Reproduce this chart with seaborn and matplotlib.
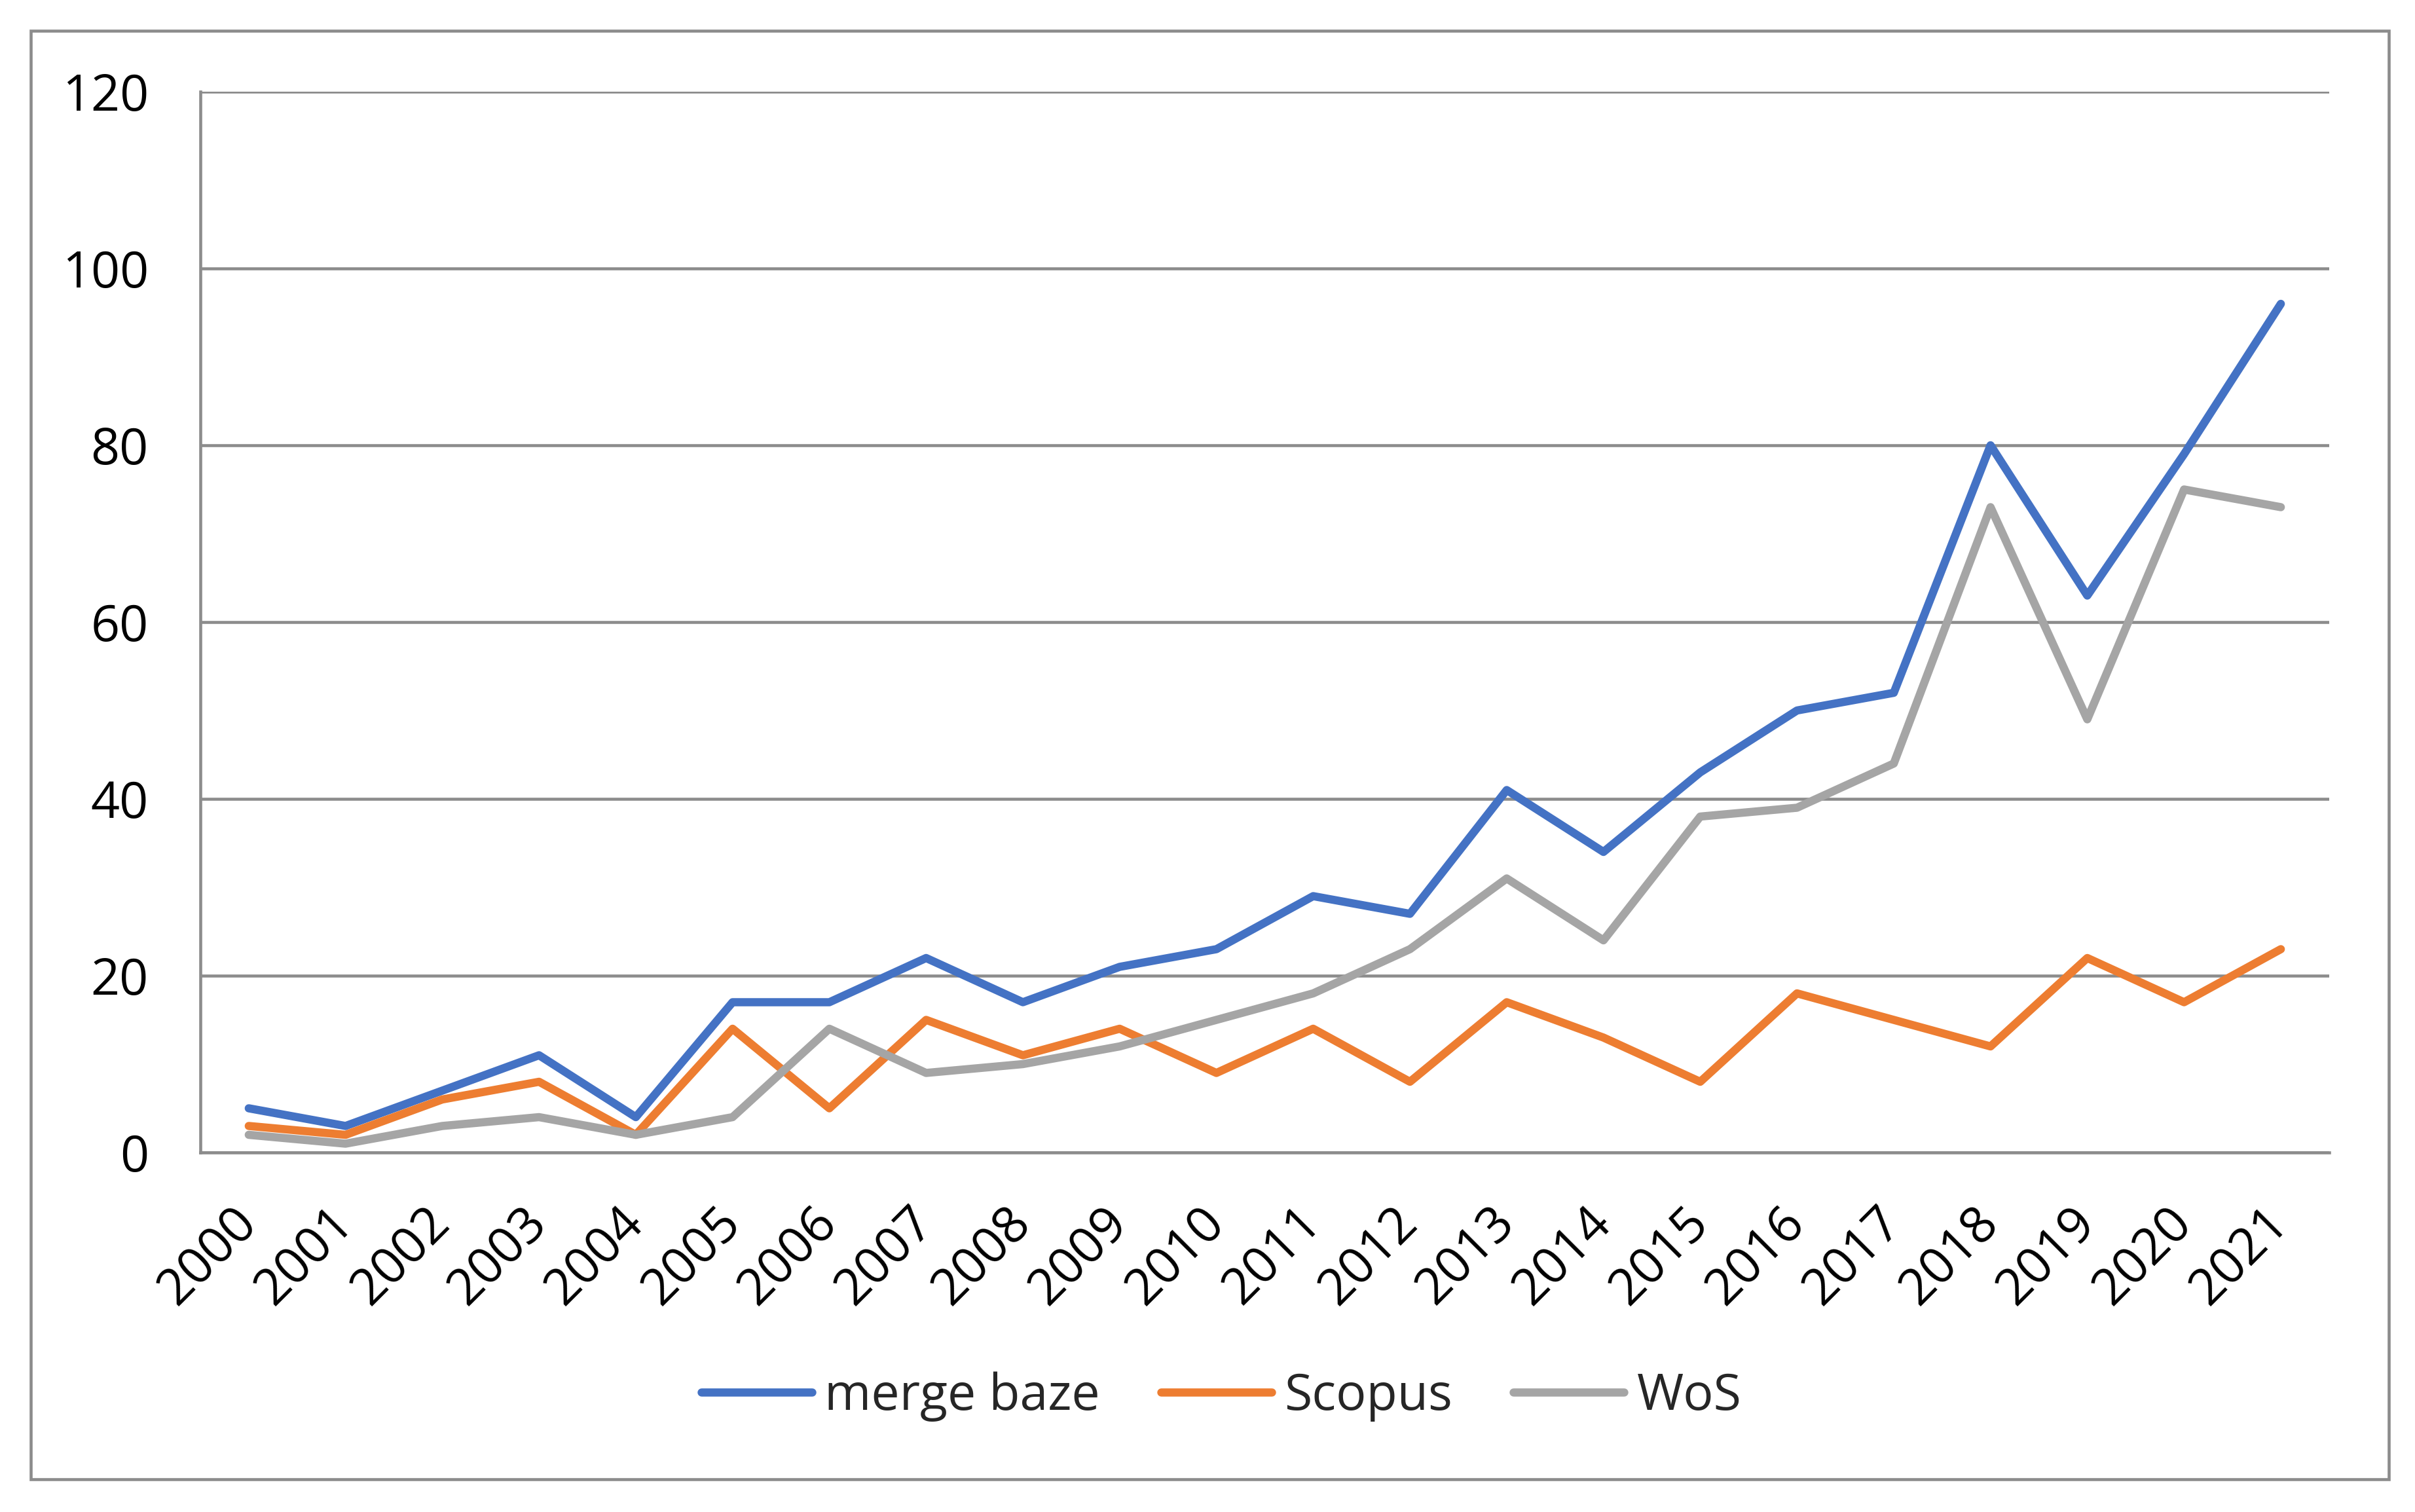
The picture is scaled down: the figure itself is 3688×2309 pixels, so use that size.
import pandas as pd
import matplotlib.pyplot as plt
import matplotlib.patches as patches
import seaborn as sns

# datele graficului
years = list(range(2000, 2022))
merge_baze = [5, 3, 7, 11, 4, 17, 17, 22, 17, 21, 23, 29, 27, 41, 34, 43, 50, 52, 80, 63, 79, 96]
scopus = [3, 2, 6, 8, 2, 14, 5, 15, 11, 14, 9, 14, 8, 17, 13, 8, 18, 15, 12, 22, 17, 23]
wos = [2, 1, 3, 4, 2, 4, 14, 9, 10, 12, 15, 18, 23, 31, 24, 38, 39, 44, 73, 49, 75, 73]
series_names = ["merge baze", "Scopus", "WoS"]
colors = ["#4472C4", "#ED7D31", "#A5A5A5"]
y_ticks = [0, 20, 40, 60, 80, 100, 120]

df = pd.DataFrame({
    "an": years * 3,
    "valoare": merge_baze + scopus + wos,
    "sursa": [series_names[0]] * 22 + [series_names[1]] * 22 + [series_names[2]] * 22,
})

sns.set_style("white")
plt.rcParams['font.family'] = ['Open Sans', 'DejaVu Sans']
grid_col = "#8c8c8c"
lw = 3.0

fig = plt.figure(figsize=(3688 / 300, 2309 / 300), dpi=300)
ax = fig.add_axes([306 / 3688, 1 - 1760 / 2309, (3557 - 306) / 3688, (1760 - 140) / 2309])

sns.lineplot(data=df, x="an", y="valoare", hue="sursa", palette=colors,
             sort=False, ax=ax)
for ln in ax.lines:
    ln.set_linewidth(lw)
    ln.set_solid_capstyle('round')
    ln.set_solid_joinstyle('round')

ax.set_xlim(years[0] - 0.5, years[-1] + 0.5)
ax.set_ylim(0, 120)
ax.set_yticks(y_ticks)
ax.set_xticks(years)
ax.set_xticklabels([str(y) for y in years], rotation=45, ha='right', va='center',
                   rotation_mode='anchor')
ax.tick_params(axis='both', length=0, labelsize=18.5, colors='black')
ax.tick_params(axis='y', pad=19)
ax.tick_params(axis='x', pad=23)
ax.set_xlabel("")
ax.set_ylabel("")

ax.yaxis.grid(True, color=grid_col, linewidth=1.1)
ax.xaxis.grid(False)
ax.set_axisbelow(True)
for s in ['top', 'right']:
    ax.spines[s].set_visible(False)
for s in ['left', 'bottom']:
    ax.spines[s].set_color(grid_col)
    ax.spines[s].set_linewidth(1.1)

# legenda jos
h, l = ax.get_legend_handles_labels()
ax.get_legend().remove()
leg = fig.legend(h, l, loc='center', bbox_to_anchor=(1865 / 3688, 1 - 2133 / 2309),
                 ncol=3, frameon=False, fontsize=18.5, handlelength=2.2,
                 handletextpad=0.25, columnspacing=1.2)
for lh in leg.get_lines():
    lh.set_linewidth(lw)
    lh.set_solid_capstyle('round')

# chenarul exterior
fig.patches.append(patches.Rectangle((47 / 3688, 1 - 2259 / 2309),
                                     (3648 - 47) / 3688, (2259 - 47) / 2309,
                                     transform=fig.transFigure, fill=False,
                                     edgecolor=grid_col, linewidth=1.1))

fig.savefig("out.png", dpi=300, facecolor='white')
